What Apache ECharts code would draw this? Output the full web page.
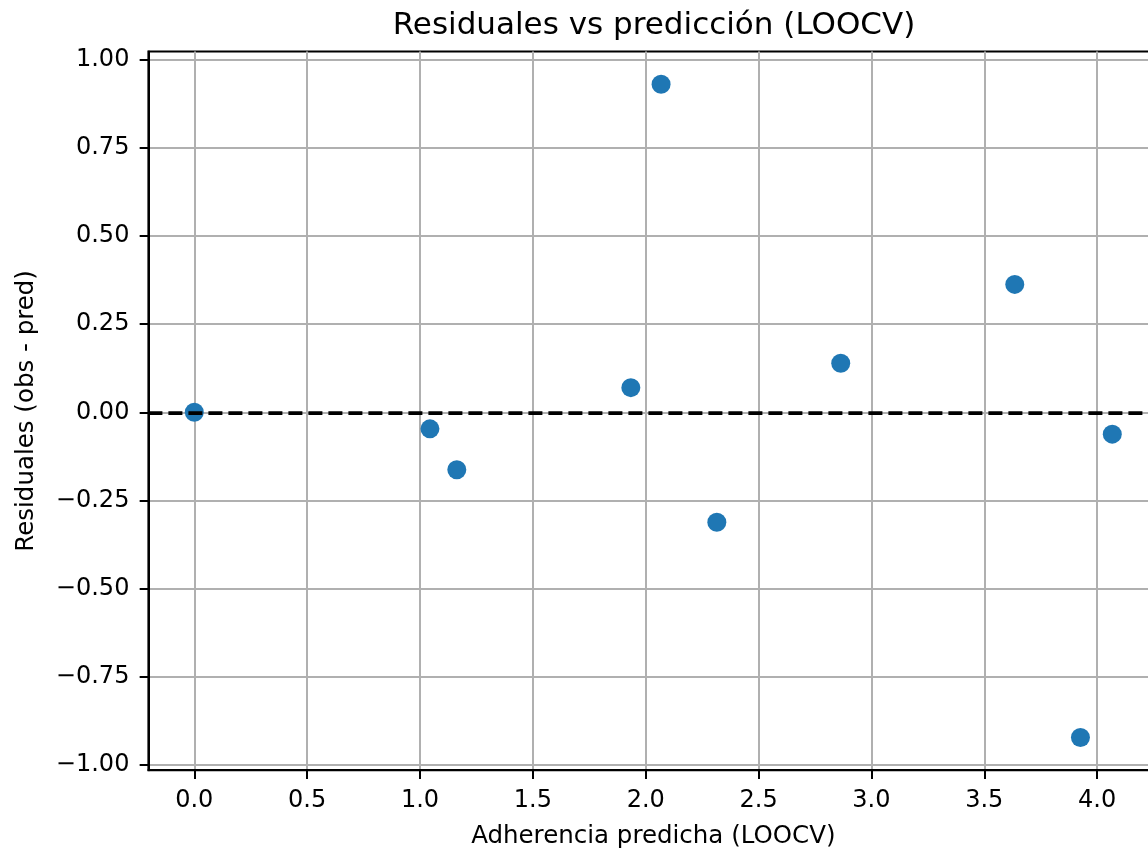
<!DOCTYPE html>
<html>
<head>
<meta charset="utf-8">
<script src="https://cdn.jsdelivr.net/npm/echarts@6/dist/echarts.min.js"></script>
<style>
  html, body { margin: 0; padding: 0; background: #fff; }
  #chart { width: 1148px; height: 851px; }
</style>
</head>
<body>
<div id="chart"></div>
<script>
// ---- data ----
const predicted = [0.000, 1.044, 1.163, 1.934, 2.068, 2.315, 2.864, 3.635, 4.067, 3.926];
const residuals = [0.000, -0.047, -0.163, 0.070, 0.931, -0.312, 0.139, 0.363, -0.062, -0.923];
const xTicks = [0.0, 0.5, 1.0, 1.5, 2.0, 2.5, 3.0, 3.5, 4.0];
const yTicks = [-1.00, -0.75, -0.50, -0.25, 0.00, 0.25, 0.50, 0.75, 1.00];
const refLineY = 0;

const titleText = 'Residuales vs predicción (LOOCV)';
const xLabel = 'Adherencia predicha (LOOCV)';
const yLabel = 'Residuales (obs - pred)';

// ---- chart ----
const FONT = 'DejaVu Sans';
const fmt = (v, d) => {
  const s = Math.abs(v).toFixed(d);
  return (v < -1e-9 ? '\u2212' : '') + s;
};

const points = predicted.map((x, i) => [x, residuals[i]]);

const chart = echarts.init(document.getElementById('chart'), null, { renderer: 'canvas' });
chart.setOption({
  animation: false,
  backgroundColor: '#ffffff',
  title: {
    text: titleText,
    left: 649,
    top: 5,
    textAlign: 'center',
    textStyle: { fontFamily: FONT, fontSize: 31, fontWeight: 'normal', color: '#000' }
  },
  grid: {
    left: 148.4,
    right: -10.2,
    top: 51.6,
    bottom: 80.8,
    outerBoundsMode: 'none',
    containLabel: false,
    show: true,
    borderColor: '#000',
    borderWidth: 2,
    backgroundColor: '#fff'
  },
  xAxis: {
    type: 'value',
    min: -0.2034,
    max: 4.2705,
    name: xLabel,
    nameLocation: 'middle',
    nameGap: 54,
    nameTextStyle: { fontFamily: FONT, fontSize: 24.5, color: '#000' },
    axisLine: { show: true, onZero: false, lineStyle: { color: '#000', width: 2 } },
    axisTick: { show: true, length: 8.75, lineStyle: { color: '#000', width: 2 }, customValues: xTicks },
    axisLabel: {
      customValues: xTicks,
      margin: 19,
      fontFamily: FONT, fontSize: 24, color: '#000',
      formatter: v => fmt(v, 1)
    },
    splitLine: { show: true, lineStyle: { color: '#b0b0b0', width: 2 } }
  },
  yAxis: {
    type: 'value',
    min: -1.0157,
    max: 1.0237,
    name: yLabel,
    nameLocation: 'middle',
    nameRotate: 90,
    nameGap: 109,
    nameTextStyle: { fontFamily: FONT, fontSize: 24.5, color: '#000' },
    axisLine: { show: true, onZero: false, lineStyle: { color: '#000', width: 2 } },
    axisTick: { show: true, length: 8.75, lineStyle: { color: '#000', width: 2 }, customValues: yTicks },
    axisLabel: {
      customValues: yTicks,
      margin: 19,
      fontFamily: FONT, fontSize: 24, color: '#000',
      formatter: v => fmt(v, 2)
    },
    splitLine: { show: true, lineStyle: { color: '#b0b0b0', width: 2 } }
  },
  series: [{
    type: 'scatter',
    data: points,
    symbol: 'circle',
    symbolSize: 19,
    itemStyle: { color: '#1f77b4', opacity: 1 },
    z: 3,
    markLine: {
      silent: true,
      symbol: 'none',
      z: 5,
      label: { show: false },
      lineStyle: { color: '#000', width: 3.75, type: [14, 6], opacity: 1 },
      emphasis: { disabled: true },
      data: [{ yAxis: refLineY }]
    }
  }]
});
</script>
</body>
</html>
